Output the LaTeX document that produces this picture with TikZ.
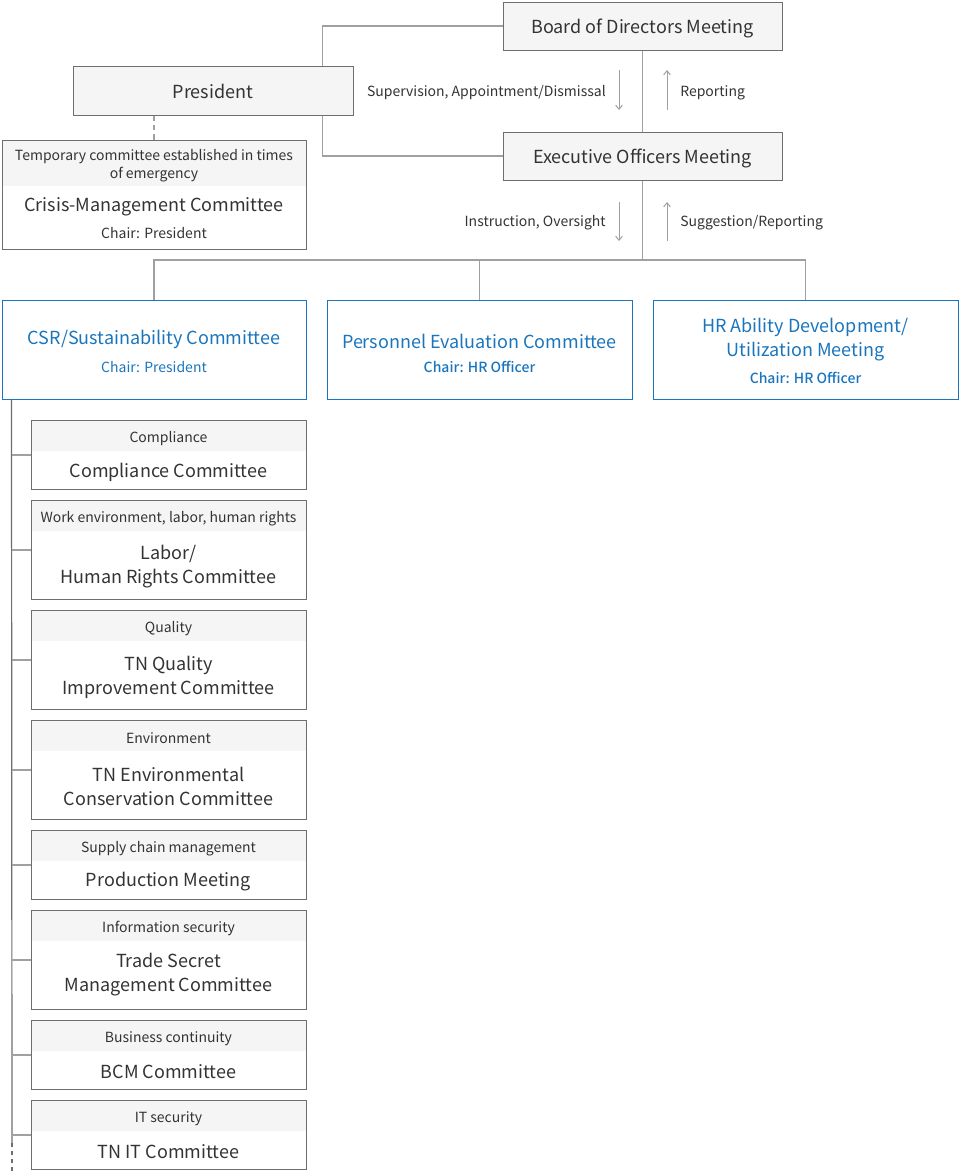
\documentclass[tikz,border=0pt]{standalone}
\usepackage{fontspec}
\setmainfont{Noto Sans CJK JP}[BoldFont={Noto Sans CJK JP Medium}]
\usetikzlibrary{positioning,calc,arrows.meta}

\definecolor{boxgray}{RGB}{110,110,110}
\definecolor{linegray}{RGB}{160,160,160}
\definecolor{bandgray}{RGB}{245,245,245}
\definecolor{txtgray}{RGB}{51,51,51}
\definecolor{tnblue}{RGB}{26,117,188}

\tikzset{
  topbox/.style={draw=boxgray, fill=bandgray, line width=0.75pt, inner sep=0pt},
  bluebox/.style={draw=tnblue, line width=0.75pt, inner sep=0pt, minimum width=228.75pt, minimum height=74.25pt},
  subbox/.style={draw=boxgray, line width=0.75pt, inner sep=0pt, minimum width=206.25pt},
  band/.style={fill=bandgray, inner sep=0pt, minimum width=206.25pt, minimum height=23.25pt},
  maintext/.style={text=txtgray, align=center, inner sep=0pt, font=\fontsize{13.5}{18}\selectfont},
  smalltext/.style={text=txtgray, align=center, inner sep=0pt, font=\fontsize{10.5}{13.5}\selectfont},
  bluetext/.style={maintext, text=tnblue},
  bluechair/.style={smalltext, text=tnblue},
  conn/.style={draw=linegray, line width=1pt},
  spine/.style={draw=boxgray, line width=0.9pt},
  flow/.style={draw=linegray, line width=0.75pt, -{Straight Barb[length=3pt,width=5pt]}},
}

\begin{document}
\begin{tikzpicture}[x=0.75pt,y=0.75pt,yscale=-1,xscale=1]
\useasboundingbox (0,0) rectangle (960,1172);

%Top boxes
\node[topbox, minimum width=209.25pt, minimum height=36pt] (bod) at (642.5,26) {};
\node[maintext] (bodt) at (642.5,28) {Board of Directors Meeting};
\node[topbox, minimum width=210pt, minimum height=36.75pt] (pres) at (213,90.5) {};
\node[maintext] (prest) at (213,91.5) {President};
\node[topbox, minimum width=209.25pt, minimum height=36pt] (eom) at (642.5,156) {};
\node[maintext] (eomt) at (642.5,158) {Executive Officers Meeting};

%Connectors between top boxes
\draw[conn] (bod.west) -| ($(pres.north east)+(-31,0)$);
\draw[conn] ($(pres.south east)+(-31,0)$) |- (eom.west);
\draw[conn] (bod.south) -- (eom.north);

%Arrows and labels, board / executive
\draw[flow] (619,70) -- (619,110);
\draw[flow] (667,110) -- (667,70);
\node[smalltext, anchor=east] (supv) at (606,93) {Supervision, Appointment/Dismissal};
\node[smalltext, anchor=west] (rept) at (680,93) {Reporting};

%Crisis-Management Committee
\node[fill=bandgray, inner sep=0pt, minimum width=228pt, minimum height=34.5pt] (crish) at (154,163) {};
\node[draw=boxgray, line width=0.75pt, inner sep=0pt, minimum width=228pt, minimum height=81.75pt] (cris) at (154,194.5) {};
\node[smalltext] (crisht) at (154,166) {Temporary committee established in times\\of emergency};
\node[maintext] (crist) at (154,207) {Crisis-Management Committee};
\node[smalltext] (crisc) at (154,233) {Chair: President};
\draw[conn, dash pattern=on 4pt off 3pt] (pres.south -| cris.north) -- (cris.north);

%Executive to committees
\coordinate (bus) at (642.5,260);
\draw[conn] (eom.south) -- (bus);
\draw[flow] (619,202) -- (619,241);
\draw[flow] (667,241) -- (667,202);
\node[smalltext, anchor=east] (instr) at (606,223) {Instruction, Oversight};
\node[smalltext, anchor=west] (sugg) at (680,223) {Suggestion/Reporting};

%Blue committees
\node[bluebox, minimum width=228pt] (csr) at (154,349.5) {};
\node[bluetext] (csrt) at (154,339) {CSR/Sustainability Committee};
\node[bluechair] (csrc) at (154,367) {Chair: President};

\node[bluebox] (pec) at (479.5,349.5) {};
\node[bluetext] (pect) at (479.5,341) {Personnel Evaluation Committee};
\node[bluechair, font=\fontsize{10.5}{13.5}\selectfont\bfseries] (pecc) at (479.5,367) {Chair: HR Officer};

\node[bluebox] (hra) at (805.5,349.5) {};
\node[bluetext] (hrat) at (805.5,339.5) {HR Ability Development/\\Utilization Meeting};
\node[bluechair, font=\fontsize{10.5}{13.5}\selectfont\bfseries] (hrac) at (805.5,377.5) {Chair: HR Officer};

\draw[conn] (csr.north) |- (bus) -| (hra.north);
\draw[conn] (pec.north) -- (pec.north |- bus);

%Sub committees
\node[band] (cmph) at (168.5,435.5) {};
\node[subbox, minimum height=51.75pt, anchor=north] (cmp) at (168.5,420) {};
\node[smalltext] (cmpl) at (168.5,438.5) {Compliance};
\node[maintext] (cmpt) at (168.5,472) {Compliance Committee};

\node[band] (labh) at (168.5,515.5) {};
\node[subbox, minimum height=74.25pt, anchor=north] (lab) at (168.5,500) {};
\node[smalltext] (labl) at (168.5,518.5) {Work environment, labor, human rights};
\node[maintext] (labt) at (168.5,567) {Labor/\\Human Rights Committee};

\node[band] (qualh) at (168.5,625.5) {};
\node[subbox, minimum height=74.25pt, anchor=north] (qual) at (168.5,610) {};
\node[smalltext] (quall) at (168.5,628.5) {Quality};
\node[maintext] (qualt) at (168.5,677) {TN Quality\\Improvement Committee};

\node[band] (envh) at (168.5,735.5) {};
\node[subbox, minimum height=74.25pt, anchor=north] (env) at (168.5,720) {};
\node[smalltext] (envl) at (168.5,738.5) {Environment};
\node[maintext] (envt) at (168.5,786) {TN Environmental\\Conservation Committee};

\node[band] (suph) at (168.5,845.5) {};
\node[subbox, minimum height=51.75pt, anchor=north] (sup) at (168.5,830) {};
\node[smalltext] (supl) at (168.5,848.5) {Supply chain management};
\node[maintext] (supt) at (168.5,882) {Production Meeting};

\node[band] (sech) at (168.5,925.5) {};
\node[subbox, minimum height=74.25pt, anchor=north] (sec) at (168.5,910) {};
\node[smalltext] (secl) at (168.5,928.5) {Information security};
\node[maintext] (sect) at (168.5,975) {Trade Secret\\Management Committee};

\node[band] (bcmh) at (168.5,1035.5) {};
\node[subbox, minimum height=51.75pt, anchor=north] (bcm) at (168.5,1020) {};
\node[smalltext] (bcml) at (168.5,1038.5) {Business continuity};
\node[maintext] (bcmt) at (168.5,1072) {BCM Committee};

\node[band] (itch) at (168.5,1115.5) {};
\node[subbox, minimum height=51.75pt, anchor=north] (itc) at (168.5,1100) {};
\node[smalltext] (itcl) at (168.5,1118.5) {IT security};
\node[maintext] (itct) at (168.5,1152) {TN IT Committee};

%Spine and branches
\coordinate (spinetop) at ($(csr.south west)+(10,0)$);
\coordinate (spineend) at (12,1143);
\coordinate (spinefree) at (12,1172);
\draw[spine] (spinetop) -- (spineend);
\draw[spine, dash pattern=on 3pt off 3pt] (spineend) -- (spinefree);
\foreach \b in {cmp,lab,qual,env,sup,sec,bcm,itc}
  \draw[conn] (\b.west -| spinetop) -- (\b.west);

\end{tikzpicture}
\end{document}
